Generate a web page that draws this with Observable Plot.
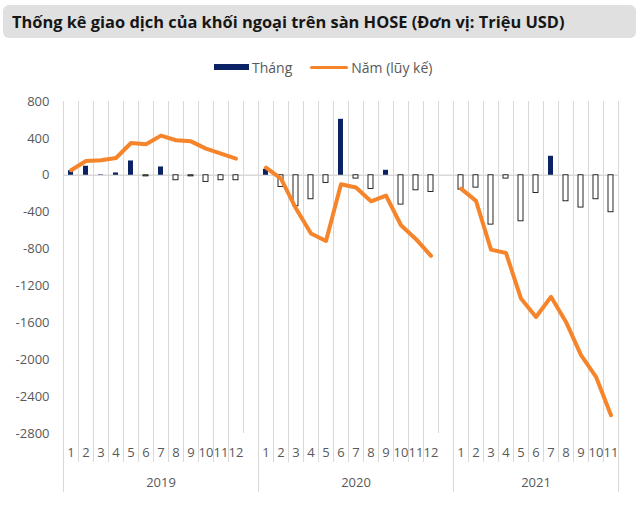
<!DOCTYPE html>
<html><head><meta charset="utf-8">
<script src="https://cdn.jsdelivr.net/npm/d3@7"></script>
<script src="https://cdn.jsdelivr.net/npm/@observablehq/plot@0.6"></script>
<style>
body{margin:0;background:#fff;font-family:"Open Sans",sans-serif;width:640px;height:510px;position:relative;overflow:hidden;}
#title{position:absolute;left:3px;top:5px;width:633px;height:33px;background:#e0e0e0;border-radius:6px;font-weight:700;font-size:16.4px;line-height:33px;padding-left:9px;box-sizing:border-box;color:#161616;white-space:nowrap;}
#legend{position:absolute;top:57px;left:214px;height:20px;display:flex;align-items:center;font-size:14px;color:#595959;}
.sw{display:inline-block;}
#chart{position:absolute;top:80px;left:0;}
</style></head>
<body>
<div id="title">Thống kê giao dịch của khối ngoại trên sàn HOSE (Đơn vị: Triệu USD)</div>
<div id="legend">
  <span class="sw" style="width:35px;height:6px;background:#0B2265;margin-right:3px"></span><span>Tháng</span>
  <span class="sw" style="width:38px;height:3px;background:#F5842B;border-radius:2px;margin-left:18px;margin-right:3px"></span><span>Năm (lũy kế)</span>
</div>
<div id="chart"></div>
<script>
// ---- data ----
const years = ["2019", "2020", "2021"];
const monthly2019 = [50, 98, 5, 25, 155, -12, 90, -54, -12, -72, -54, -54];
const cumul2019   = [55, 155, 162, 187, 350, 336, 430, 380, 368, 289, 235, 181];
const monthly2020 = [65, -127, -336, -260, -83, 607, -36, -148, 54, -318, -163, -181];
const cumul2020   = [83, -36, -361, -632, -712, -98, -133, -282, -220, -542, -693, -874];
const monthly2021 = [-156, -134, -535, -36, -499, -192, 206, -282, -350, -260, -401];
const cumul2021   = [-145, -278, -806, -842, -1337, -1536, -1318, -1590, -1950, -2185, -2601];
const yTicks = [800, 400, 0, -400, -800, -1200, -1600, -2000, -2400, -2800];

const NAVY = "#0B2265", ORANGE = "#F5842B", GRID = "#d9d9d9", TXT = "#595959";

const series = [
  {year: "2019", monthly: monthly2019, cumul: cumul2019},
  {year: "2020", monthly: monthly2020, cumul: cumul2020},
  {year: "2021", monthly: monthly2021, cumul: cumul2021}
];

// build table; each year except the last gets a blank spacer category
const rows = [];
const domain = [];
const yearKeys = {};
series.forEach((s, si) => {
  yearKeys[s.year] = [];
  s.monthly.forEach((v, i) => {
    const key = `${s.year}-${i + 1}`;
    domain.push(key); yearKeys[s.year].push(key);
    rows.push({key, year: s.year, month: i + 1, monthly: v, cumul: s.cumul[i]});
  });
  if (si < series.length - 1) { const gap = `${s.year}-gap`; domain.push(gap); yearKeys[s.year].push(gap); }
});
const monthKeys = rows.map(d => d.key);
const lastKey = domain[domain.length - 1];
const innerSeps = rows.filter(d => d.month > 1).map(d => d.key);
const yearStarts = rows.filter(d => d.month === 1).map(d => d.key);
const yearCenters = years.map(y => yearKeys[y][Math.floor(yearKeys[y].length / 2)]);

const W = 640, H = 430, ML = 63, MR = 22, MT = 21, MB = 77;
const bw = (W - ML - MR) / domain.length;

const chart = Plot.plot({
  width: W, height: H,
  marginLeft: ML, marginRight: MR, marginTop: MT, marginBottom: MB,
  style: {fontFamily: "Open Sans, sans-serif", fontSize: "13px", color: TXT, background: "white"},
  x: {type: "band", domain, padding: 0, axis: null, label: null},
  y: {domain: [-2800, 800], axis: null, label: null},
  marks: [
    // vertical gridlines at category boundaries
    Plot.ruleX(domain, {x: d => d, dx: -bw / 2, stroke: GRID, strokeWidth: 1}),
    Plot.ruleX([lastKey], {x: d => d, dx: bw / 2, stroke: GRID, strokeWidth: 1}),
    // zero line
    Plot.ruleY([0], {stroke: GRID, strokeWidth: 1.5}),
    // monthly bars
    Plot.barY(rows, {x: "key", y: "monthly", insetLeft: 5, insetRight: 5,
      fill: d => d.monthly >= 0 ? NAVY : "white",
      stroke: d => d.monthly >= 0 ? "none" : "#111", strokeWidth: 0.9}),
    // cumulative line
    Plot.lineY(rows, {x: "key", y: "cumul", z: "year", stroke: ORANGE, strokeWidth: 4, strokeLinejoin: "round", strokeLinecap: "round"}),
    // y axis
    Plot.axisY(yTicks, {anchor: "left", tickSize: 0, tickPadding: 14, fill: TXT, fontSize: 13, label: null, tickFormat: d => String(d)}),
    // category separators below the frame
    Plot.axisX(innerSeps, {anchor: "bottom", tickSize: 29, dx: -bw / 2, stroke: GRID, tickFormat: () => "", label: null}),
    Plot.axisX(yearStarts, {anchor: "bottom", tickSize: 59, dx: -bw / 2, stroke: GRID, tickFormat: () => "", label: null}),
    Plot.axisX([lastKey], {anchor: "bottom", tickSize: 59, dx: bw / 2, stroke: GRID, tickFormat: () => "", label: null}),
    // month labels
    Plot.axisX(monthKeys, {anchor: "bottom", tickSize: 0, tickPadding: 14, fill: TXT, fontSize: 13, label: null, tickFormat: k => k.split("-")[1]}),
    // year labels
    Plot.axisX(yearCenters, {anchor: "bottom", tickSize: 0, tickPadding: 44, fill: TXT, fontSize: 13, label: null, tickFormat: k => k.split("-")[0]})
  ]
});
document.getElementById("chart").appendChild(chart);
</script>
</body></html>
